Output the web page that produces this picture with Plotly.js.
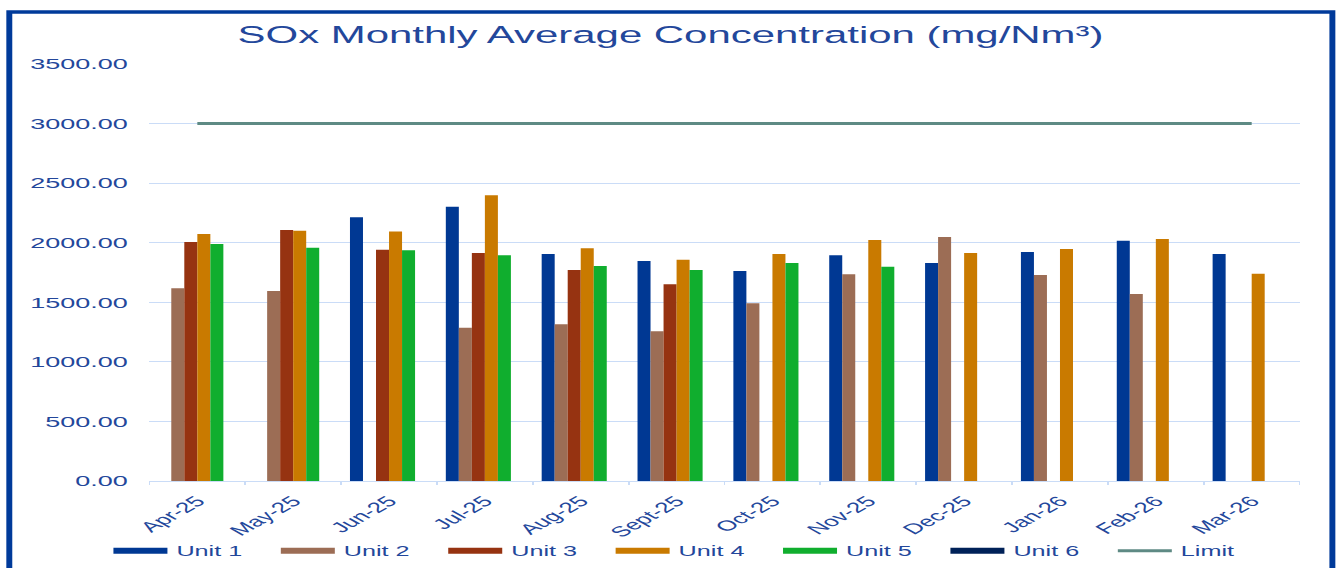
<!DOCTYPE html>
<html>
<head>
<meta charset="utf-8">
<script src="https://cdn.plot.ly/plotly-3.0.1.min.js"></script>
<style>
  html, body { margin: 0; padding: 0; background: #ffffff; overflow: hidden; }
  #wrap { width: 1341px; height: 568px; overflow: hidden; }
  #chart { width: 745px; height: 568px; transform: scaleX(1.8); transform-origin: 0 0; }
</style>
</head>
<body>
<div id="wrap"><div id="chart"></div></div>
<script>
const categories = ["Apr-25", "May-25", "Jun-25", "Jul-25", "Aug-25", "Sept-25",
                    "Oct-25", "Nov-25", "Dec-25", "Jan-26", "Feb-26", "Mar-26"];
const unit1 = [null, null, 2213, 2302, 1905, 1847, 1763, 1894, 1830, 1922, 2017, 1905];
const unit2 = [1617, 1595, null, 1287, 1315, 1256, 1491, 1735, 2048, 1729, 1570, null];
const unit3 = [2006, 2107, 1941, 1914, 1771, 1651, null, null, null, null, null, null];
const unit4 = [2073, 2101, 2095, 2398, 1953, 1858, 1905, 2023, 1914, 1947, 2031, 1740];
const unit5 = [1989, 1958, 1936, 1894, 1805, 1771, 1830, 1799, null, null, null, null];
const unit6 = [null, null, null, null, null, null, null, null, null, null, null, null];
const limitValues = [3000, 3000, 3000, 3000, 3000, 3000, 3000, 3000, 3000, 3000, 3000, 3000];
const seriesNames = ["Unit 1", "Unit 2", "Unit 3", "Unit 4", "Unit 5", "Unit 6"];
const yTickValues = [0, 500, 1000, 1500, 2000, 2500, 3000, 3500];

const seriesData = [unit1, unit2, unit3, unit4, unit5, unit6];
const colors = ["#003893", "#9C6D55", "#963311", "#C97A00", "#10AE2E", "#002158"];
const limitColor = "#5E8A84";
const textBlue = "#23479B";
const gridBlue = "#CADCF7";

const traces = [];
seriesData.forEach((vals, i) => {
  traces.push({
    type: "bar", x: categories, y: vals, name: seriesNames[i],
    marker: { color: colors[i] }, showlegend: false, legendgroup: "g" + i,
    hoverinfo: "x+y+name"
  });
});
traces.push({
  type: "scatter", mode: "lines", x: categories, y: limitValues, name: "Limit",
  line: { color: limitColor, width: 3 }, showlegend: false, legendgroup: "lim"
});
// legend entries (line swatches like the original)
seriesData.forEach((vals, i) => {
  traces.push({
    type: "scatter", mode: "lines", x: [null], y: [null], name: seriesNames[i],
    line: { color: colors[i], width: 6 }, legendgroup: "g" + i, hoverinfo: "skip"
  });
});
traces.push({
  type: "scatter", mode: "lines", x: [null], y: [null], name: "Limit",
  line: { color: limitColor, width: 3 }, legendgroup: "lim", hoverinfo: "skip"
});

const layout = {
  width: 745, height: 568,
  margin: { l: 83, r: 23, t: 64, b: 87, autoexpand: false },
  paper_bgcolor: "#ffffff", plot_bgcolor: "#ffffff",
  font: { family: "Liberation Sans, Arial, sans-serif", color: textBlue },
  title: {
    text: "SOx Monthly Average Concentration (mg/Nm³)",
    font: { size: 23.3, color: textBlue, family: "Liberation Sans, Arial, sans-serif" },
    x: 0.5, xanchor: "center", xref: "container",
    y: 1 - 35 / 568, yanchor: "middle", yref: "container"
  },
  barmode: "group", bargap: 0.185, bargroupgap: 0,
  xaxis: {
    type: "category", automargin: false,
    tickangle: -45, tickfont: { size: 14.5, color: textBlue },
    showline: true, linecolor: gridBlue, linewidth: 1,
    ticks: "outside", tickson: "boundaries", ticklen: 3, tickcolor: gridBlue,
    ticklabelstandoff: 5,
    showgrid: false, zeroline: false
  },
  yaxis: {
    range: [0, 3500], automargin: false,
    tickvals: yTickValues, tickformat: ".2f",
    tickfont: { size: 15, color: textBlue },
    showgrid: true, gridcolor: gridBlue, gridwidth: 1,
    zeroline: false, showline: false, ticks: "", ticklabelstandoff: 11
  },
  legend: {
    orientation: "h", xref: "paper", yref: "paper",
    x: -0.0391, xanchor: "left", y: -0.168, yanchor: "middle",
    font: { size: 14, color: textBlue },
    entrywidth: 48, entrywidthmode: "pixels",
    traceorder: "normal", bgcolor: "rgba(0,0,0,0)"
  },
  shapes: [{
    type: "rect", xref: "paper", yref: "paper",
    x0: -0.1218, x1: 1.0285, y0: -0.35, y1: 1.1247,
    line: { color: "#003A9A", width: 3.3 }, fillcolor: "rgba(0,0,0,0)", layer: "below"
  }],
  showlegend: true
};

Plotly.newPlot("chart", traces, layout, { displayModeBar: false, responsive: false });
</script>
</body>
</html>
